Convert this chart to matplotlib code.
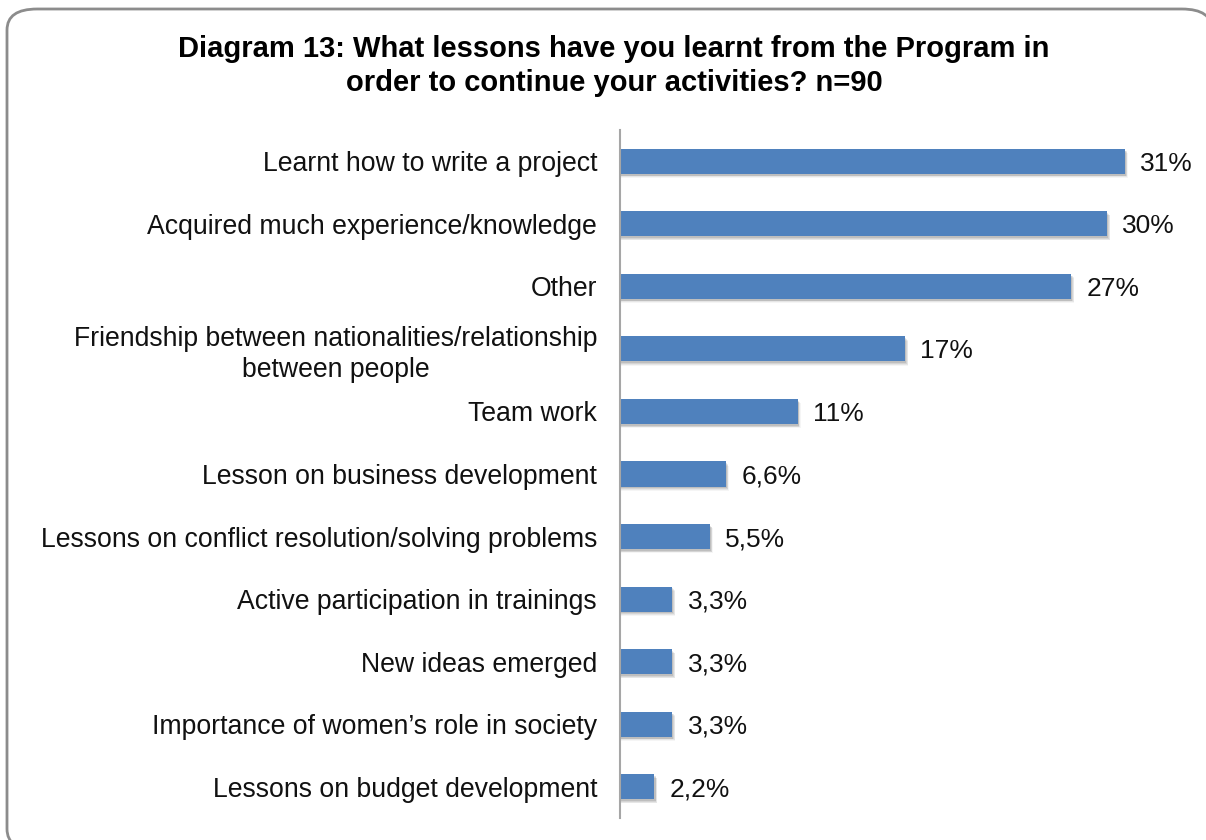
import matplotlib
matplotlib.use("Agg")
import matplotlib.pyplot as plt
from matplotlib.patches import FancyBboxPatch

plt.rcParams['font.family'] = ['Liberation Sans', 'DejaVu Sans']

# data
categories = [
    "Learnt how to write a project",
    "Acquired much experience/knowledge",
    "Other",
    "Friendship between nationalities/relationship\nbetween people",
    "Team work",
    "Lesson on business development",
    "Lessons on conflict resolution/solving problems",
    "Active participation in trainings",
    "New ideas emerged",
    "Importance of women\u2019s role in society",
    "Lessons on budget development",
]
values = [31.0, 29.9, 27.7, 17.5, 10.9, 6.5, 5.5, 3.2, 3.2, 3.2, 2.1]
value_labels = ["31%", "30%", "27%", "17%", "11%", "6,6%", "5,5%",
                "3,3%", "3,3%", "3,3%", "2,2%"]

W, H = 1206, 840
fig = plt.figure(figsize=(W / 100, H / 100), dpi=100)

# rounded outer frame (runs off the right and bottom edges)
frame = FancyBboxPatch((7 / W, -10 / H), (1212 - 7) / W, (840 - 9 + 10) / H,
                       boxstyle="round,pad=0,rounding_size=0.025",
                       transform=fig.transFigure, facecolor='white',
                       edgecolor='#8c8c8c', linewidth=2, zorder=-5)
fig.patches.append(frame)

ax = fig.add_axes([620 / W, 1 - 818 / H, 570 / W, (818 - 130) / H])
ax.set_facecolor('none')

ypos = list(range(len(categories)))
bar_h = 0.4

# soft drop shadow under the bars
for k, a in enumerate([0.10, 0.08, 0.06, 0.04]):
    ax.barh([y + 0.03 + k * 0.012 for y in ypos], [v + 0.08 + k * 0.04 for v in values],
            height=bar_h, color='#000000', alpha=a, linewidth=0, zorder=1)

bars = ax.barh(ypos, values, height=bar_h, color='#4F81BD', linewidth=0, zorder=2)

for b, lab in zip(bars, value_labels):
    ax.text(b.get_width() + 0.95, b.get_y() + b.get_height() / 2, lab,
            va='center_baseline', ha='left', fontsize=19, color='#111111')

ax.set_xlim(0, 35)
ax.set_ylim(len(categories) - 0.5, -0.5)
ax.set_xticks([])
ax.set_yticks(ypos)
ax.set_yticklabels(categories, fontsize=19.2, color='#111111')
for t in ax.get_yticklabels():
    t.set_multialignment('center')
    t.set_linespacing(1.25)
ax.tick_params(axis='y', length=0, pad=16.5)

for s in ['top', 'right', 'bottom']:
    ax.spines[s].set_visible(False)
ax.spines['left'].set_color('#a6a6a6')
ax.spines['left'].set_linewidth(1.5)

fig.text(614 / W, 1 - 66 / H,
         "Diagram 13: What lessons have you learnt from the Program in\norder to continue your activities? n=90",
         ha='center', va='center', fontsize=21, fontweight='bold', linespacing=1.3)

fig.savefig("out.png", dpi=100)
